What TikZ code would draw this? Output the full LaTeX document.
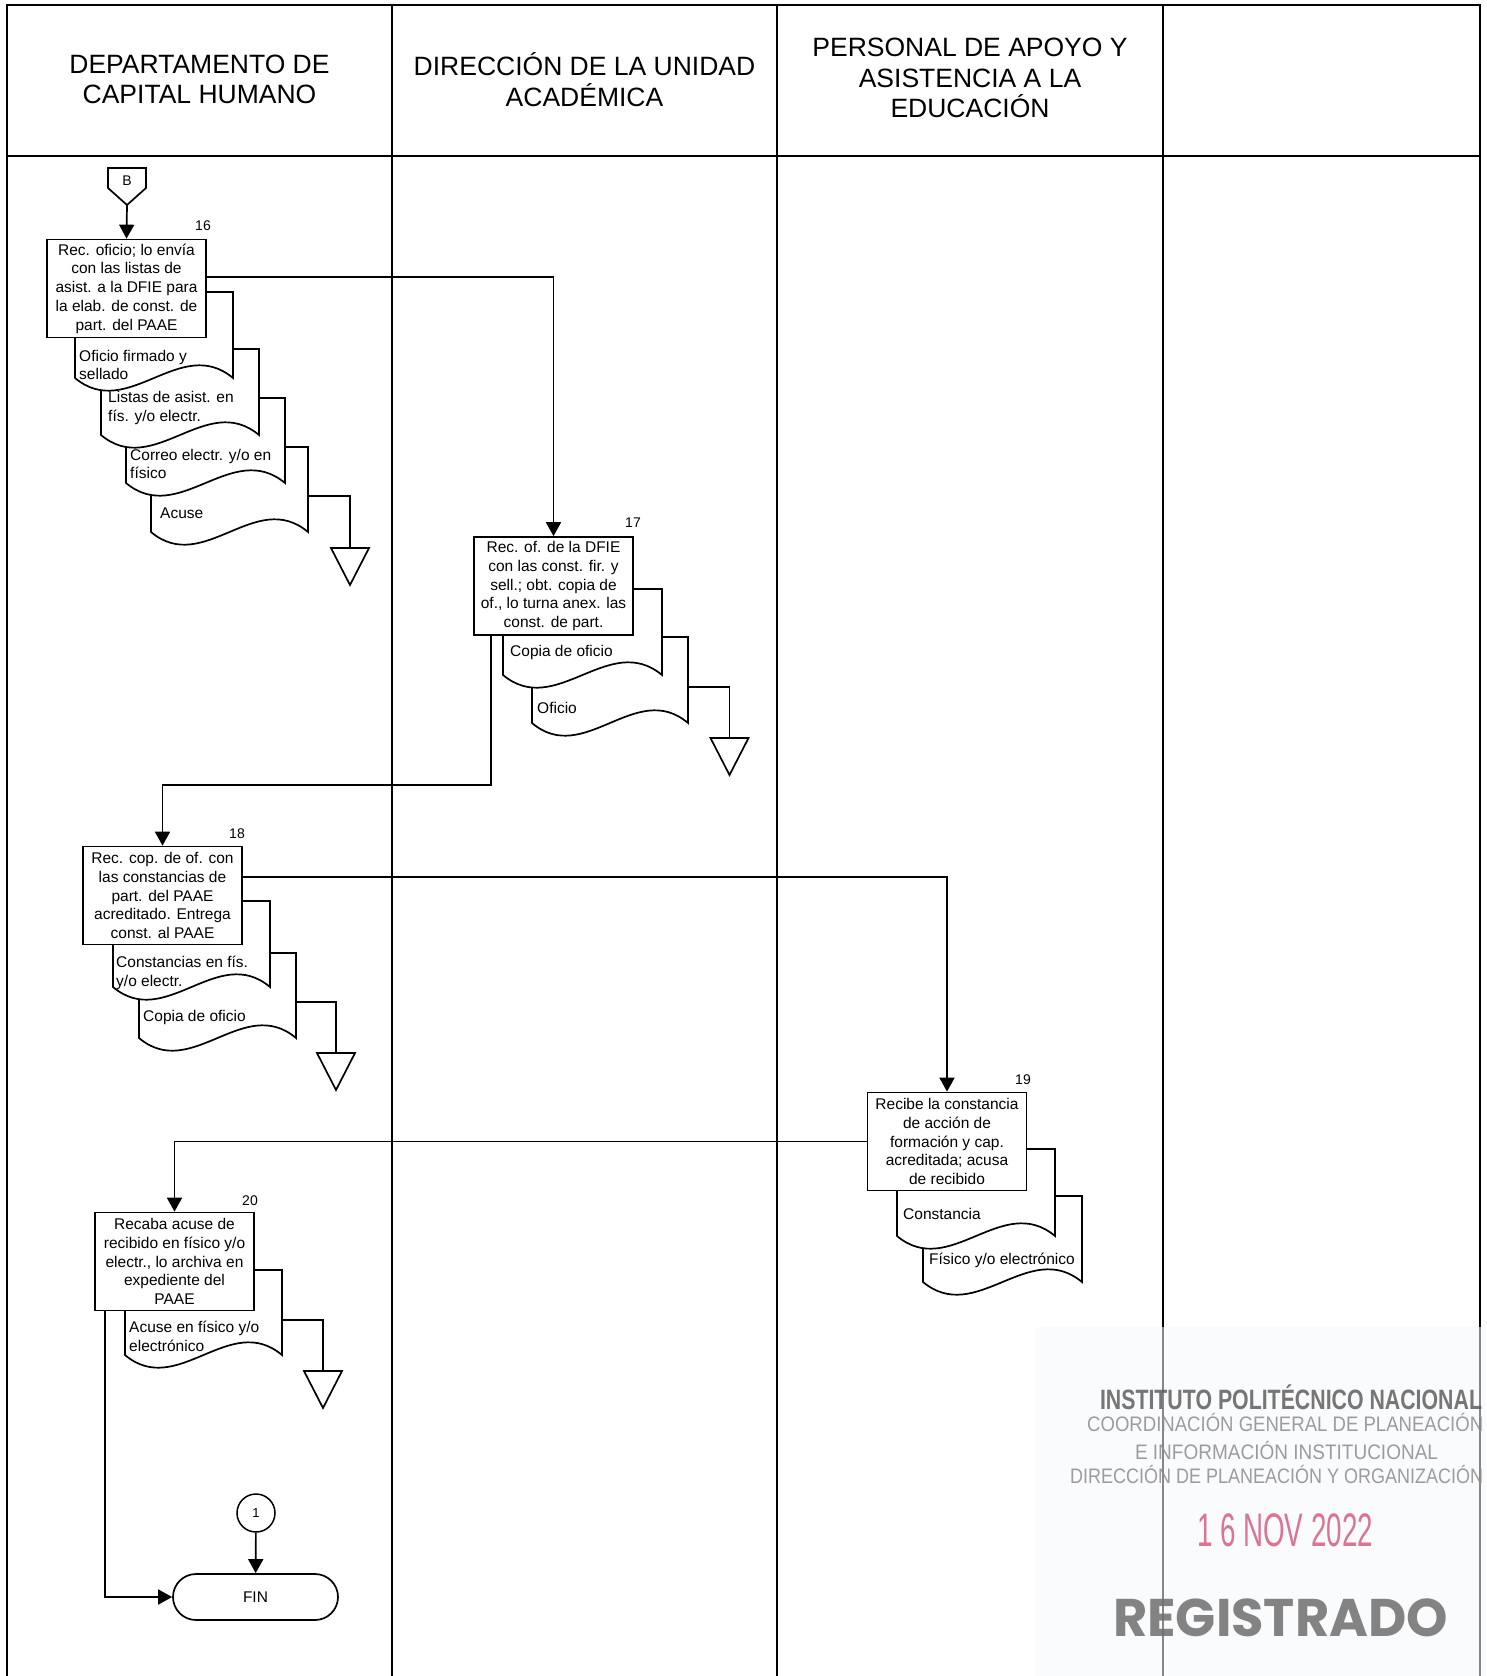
\documentclass[tikz,border=0pt]{standalone}
\usepackage{fontspec}
\usepackage{graphicx}
\setmainfont{Liberation Sans}
\newfontfamily\stampwide{Poppins}
\usetikzlibrary{arrows.meta}

\definecolor{stampbg}{RGB}{246,247,250}
\definecolor{stampdark}{RGB}{95,95,95}
\definecolor{stamplight}{RGB}{140,140,140}
\definecolor{stampdate}{RGB}{214,92,128}
\definecolor{stampreg}{RGB}{110,110,110}

\tikzset{
  lane/.style={line width=2.4pt, draw=black},
  procbox/.style={draw, fill=white, line width=1.7pt, minimum width=159pt,
    minimum height=98pt, inner sep=0pt, align=center,
    font=\fontsize{15.5}{18.8}\selectfont},
  doctext/.style={anchor=west, align=left, inner sep=0pt,
    font=\fontsize{15.5}{18.8}\selectfont},
  stepnum/.style={inner sep=0pt, font=\fontsize{14}{16}\selectfont},
  conn/.style={line width=1.7pt, draw=black},
  flow/.style={conn, -{Triangle[length=14pt,width=15pt]}},
  docline/.style={line width=1.7pt, draw=black, fill=white},
  lanehead/.style={align=center, font=\fontsize{26.5}{30.5}\selectfont},
  stamptext/.style={inner sep=0pt, text opacity=0.85},
}

% document symbol: left, top, right, bottom
\newcommand\docpage[4]{%
  \draw[docline] (#1,#2) -- (#3,#2) -- (#3,#4)
    .. controls ({#1+2*(#3-#1)/3},{#4-44}) and ({#1+(#3-#1)/3},{#4+44}) .. (#1,#4) -- cycle;}
% archive symbol: apex-down triangle hanging from (x,y)
\newcommand\ArchiveTri[2]{%
  \draw[docline] (#1-19,#2) -- (#1+19,#2) -- (#1,#2+37) -- cycle;}

\begin{document}
\begin{tikzpicture}[x=1pt, y=-1pt]
\useasboundingbox (0,0) rectangle (1486,1676);

% swimlanes
\draw[lane] (7,1676) -- (7,5) -- (1480,5) -- (1480,1676);
\draw[lane] (392,5) -- (392,1676);
\draw[lane] (777,5) -- (777,1676);
\draw[lane] (1163,5) -- (1163,1676);
\draw[lane] (7,156) -- (1480,156);

\node[lanehead] (h1) at (199.5,79.5) {DEPARTAMENTO DE\\CAPITAL HUMANO};
\node[lanehead] (h2) at (584.5,79.5) {DIRECCIÓN DE LA UNIDAD\\ACADÉMICA};
\node[lanehead] (h3) at (970,78) {PERSONAL DE APOYO Y\\ASISTENCIA A LA\\EDUCACIÓN};

% off-page connector B
\draw[docline] (108,168) -- (146,168) -- (146,188) -- (127,205) -- (108,188) -- cycle;
\node[stepnum] (offB) at (127,181) {B};
\coordinate (Btip) at (127,205);

% ---- step 16 ----
\coordinate (s16) at (308,496);
\coordinate (t16) at (350,548);
\draw[conn] (s16) -| (t16);
\ArchiveTri{350}{548}
\docpage{151}{447}{308}{532}
\docpage{126}{398}{285}{483}
\docpage{101}{349}{259}{435}
\docpage{75}{292}{233}{378}
\node[doctext] (d16d) at (160,513) {Acuse};
\node[doctext] (d16c) at (130,464) {Correo electr. y/o en\\físico};
\node[doctext] (d16b) at (108,408) {Listas de asist. en\\fís. y/o electr.};
\node[doctext] (d16a) at (79,365) {Oficio firmado y\\sellado};
\node[procbox] (p16) at (126.5,288.5) {Rec. oficio; lo envía\\con las listas de\\asist. a la DFIE para\\la elab. de const. de\\part. del PAAE};
\node[stepnum] (n16) at (203,226) {16};
\draw[flow] (Btip) -- (p16.north);

% ---- step 17 ----
\coordinate (s17) at (688,687);
\coordinate (t17) at (729.5,738);
\draw[conn] (s17) -| (t17);
\ArchiveTri{729.5}{738}
\docpage{532}{637}{688}{723}
\docpage{503}{589}{662}{675}
\node[doctext] (d17b) at (537,708) {Oficio};
\node[doctext] (d17a) at (510,652) {Copia de oficio};
\node[procbox] (p17) at (553.5,586) {Rec. of. de la DFIE\\con las const. fir. y\\sell.; obt. copia de\\of., lo turna anex. las\\const. de part.};
\node[stepnum] (n17) at (633,523) {17};
\draw[flow] ([yshift=11.5pt]p16.east) -| (p17.north);

% ---- step 18 ----
\coordinate (s18) at (296,1002);
\coordinate (t18) at (336,1053);
\draw[conn] (s18) -| (t18);
\ArchiveTri{336}{1053}
\docpage{139}{953}{296}{1038}
\docpage{113}{901}{270}{987}
\node[doctext] (d18b) at (143,1017) {Copia de oficio};
\node[doctext] (d18a) at (116,972.5) {Constancias en fís.\\y/o electr.};
\node[procbox] (p18) at (162.5,895.5) {Rec. cop. de of. con\\las constancias de\\part. del PAAE\\acreditado. Entrega\\const. al PAAE};
\node[stepnum] (n18) at (237,834) {18};
\coordinate (j1) at (491,785);
\draw[flow] (p17.south -| j1) -- (j1) -| (p18.north);

% ---- step 19 ----
\docpage{923}{1196}{1082}{1282}
\docpage{897}{1149}{1055}{1236}
\node[doctext] (d19b) at (929,1260) {Físico y/o electrónico};
\node[doctext] (d19a) at (903,1214) {Constancia};
\node[procbox] (p19) at (947,1141.5) {Recibe la constancia\\de acción de\\formación y cap.\\acreditada; acusa\\de recibido};
\node[stepnum] (n19) at (1023,1080) {19};
\draw[flow] ([yshift=18.5pt]p18.east) -| (p19.north);

% ---- step 20 ----
\coordinate (s20) at (282,1320);
\coordinate (t20) at (323,1371);
\draw[conn] (s20) -| (t20);
\ArchiveTri{323}{1371}
\docpage{125}{1270}{282}{1355}
\node[doctext] (d20a) at (129,1336) {Acuse en físico y/o\\electrónico};
\node[procbox] (p20) at (174.5,1261.5) {Recaba acuse de\\recibido en físico y/o\\electr., lo archiva en\\expediente del\\PAAE};
\node[stepnum] (n20) at (250,1201) {20};
\draw[flow] (p19.west) -| (p20.north);

% ---- end ----
\node[draw, circle, line width=1.5pt, minimum size=38pt, inner sep=0pt,
  font=\fontsize{13}{15}\selectfont] (c1) at (256,1513) {1};
\node[draw, rounded corners=23pt, minimum width=165pt, minimum height=46pt,
  line width=1.7pt, font=\fontsize{15.5}{18}\selectfont] (fin) at (255.5,1597) {FIN};
\draw[flow] (c1) -- (fin);
\coordinate (j2) at (105,1597);
\draw[flow] (p20.south -| j2) -- (j2) -- (fin.west);

% ---- registration stamp ----
\fill[stampbg, fill opacity=0.55] (1035,1327) rectangle (1486,1676);
\node[stamptext, text=stampdark] (st1) at (1291,1397)
  {\resizebox{382pt}{\height}{\fontsize{28}{30}\selectfont\bfseries INSTITUTO POLITÉCNICO NACIONAL}};
\node[stamptext, text=stamplight, anchor=west] (st2) at (1087,1422)
  {\resizebox{396pt}{\height}{\fontsize{21}{23}\selectfont COORDINACIÓN GENERAL DE PLANEACIÓN}};
\node[stamptext, text=stamplight] (st3) at (1286.5,1450)
  {\resizebox{303pt}{\height}{\fontsize{21}{23}\selectfont E INFORMACIÓN INSTITUCIONAL}};
\node[stamptext, text=stamplight, anchor=west] (st4) at (1070,1474)
  {\resizebox{413pt}{\height}{\fontsize{21}{23}\selectfont DIRECCIÓN DE PLANEACIÓN Y ORGANIZACIÓN}};
\node[stamptext, text=stampdate] (st5) at (1285,1530)
  {\resizebox{176pt}{\height}{\fontsize{47}{50}\selectfont 1 6 NOV 2022}};
\node[stamptext, text=stampreg] (st6) at (1280.5,1618)
  {\resizebox{335pt}{\height}{\fontsize{53}{56}\selectfont\stampwide\bfseries REGISTRADO}};
\end{tikzpicture}
\end{document}
